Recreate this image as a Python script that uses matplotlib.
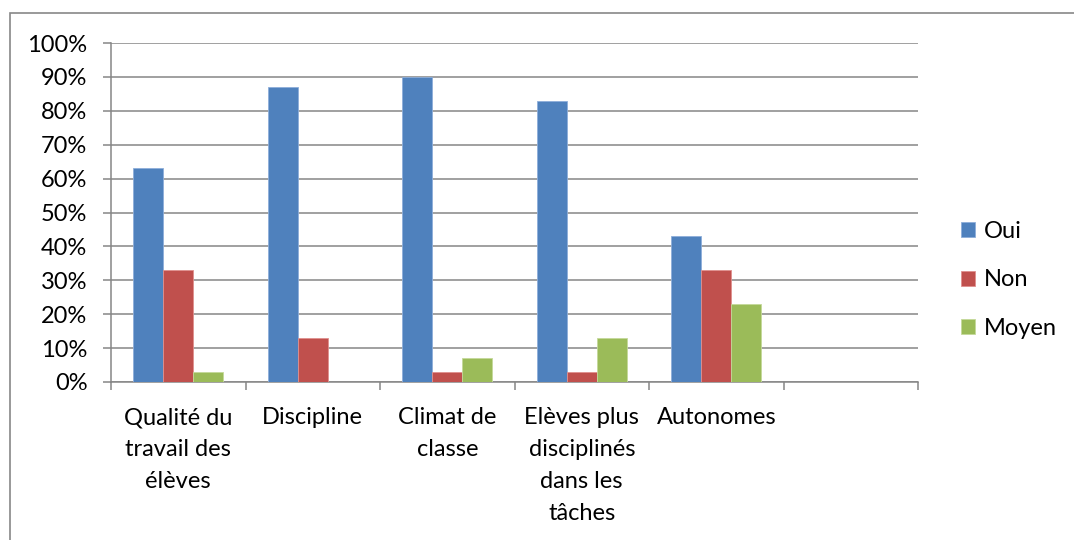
import numpy as np
import matplotlib.pyplot as plt
from matplotlib.patches import Rectangle

plt.rcParams['font.family'] = ['Lato', 'DejaVu Sans']

categories = ['Qualité du\ntravail des\nélèves', 'Discipline', 'Climat de\nclasse',
              'Elèves plus\ndisciplinés\ndans les\ntâches', 'Autonomes', '']
oui = [63, 87, 90, 83, 43, 0]
non = [33, 13, 3, 3, 33, 0]
moyen = [3, 0, 7, 13, 23, 0]
series_names = ['Oui', 'Non', 'Moyen']
colors = ['#4F81BD', '#C0504D', '#9BBB59']
edges = ['#8EAEDA', '#E0908E', '#C4D99A']

fig = plt.figure(figsize=(10.74, 5.40), dpi=100)
# cadre gris autour du graphique
fig.patches.append(Rectangle((10/1074, -0.1), 1.2, 1 - 13/540 + 0.1,
                             transform=fig.transFigure, fill=False,
                             edgecolor='#888888', linewidth=1.2))

ax = fig.add_axes([111/1074, 1 - 382/540, (918 - 111)/1074, (382 - 43)/540])

n = len(categories)
x = np.arange(n) + 0.5
w = 1 / 4.5
bars = []
for k, vals in enumerate([oui, non, moyen]):
    b = ax.bar(x + (k - 1) * w, vals, width=w, color=colors[k],
               edgecolor=edges[k], linewidth=0.6, zorder=3)
    bars.append(b)

ax.set_xlim(0, n)
ax.set_ylim(0, 100)
ax.set_yticks(np.arange(0, 101, 10))
ax.set_yticklabels([f'{v}%' for v in range(0, 101, 10)])
ax.yaxis.grid(True, color='#868686', linewidth=1.1, zorder=0)
ax.set_axisbelow(True)

ax.set_xticks(np.arange(n + 1))
ax.set_xticklabels([])
ax.set_xticks(x, minor=True)
ax.set_xticklabels(categories, minor=True, linespacing=1.65)
ax.tick_params(axis='x', which='major', direction='out', length=6,
               width=1.1, color='#868686')
ax.tick_params(axis='x', which='minor', length=0, pad=18, labelsize=17)
ax.tick_params(axis='y', direction='out', length=6, width=1.1,
               color='#868686', pad=11, labelsize=17)

for s in ['top', 'right']:
    ax.spines[s].set_visible(False)
for s in ['left', 'bottom']:
    ax.spines[s].set_color('#868686')
    ax.spines[s].set_linewidth(1.1)

fig.legend(bars, series_names, loc='center left',
           bbox_to_anchor=(940/1074, 1 - 280/540), frameon=False,
           fontsize=17, handlelength=0.6, handleheight=0.6,
           handletextpad=0.35, labelspacing=1.17)

fig.savefig('out.png', dpi=100)
